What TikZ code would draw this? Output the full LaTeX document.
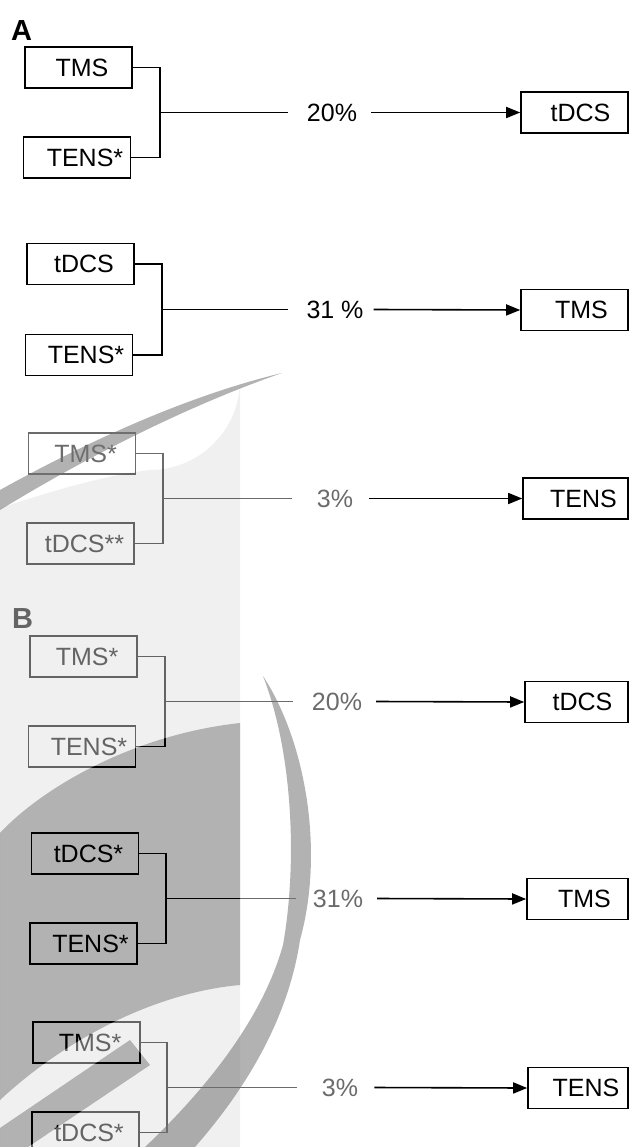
\documentclass[tikz,border=0pt]{standalone}
\usepackage{fontspec}
\setmainfont{Liberation Sans}
\usetikzlibrary{arrows.meta}
\definecolor{wmmid}{gray}{0.45}
\begin{document}
\begin{tikzpicture}[x=1pt,y=-1pt,
  box/.style={draw=black, line width=1.6pt, minimum width=107pt, minimum height=41pt,
              inner sep=0pt, font=\fontsize{25}{27}\selectfont},
  wire/.style={line width=1.6pt},
  arr/.style={line width=1.6pt, -{Triangle[length=14pt,width=11pt]}},
  pct/.style={inner sep=0pt, font=\fontsize{25}{27}\selectfont},
  panel/.style={inner sep=0pt, anchor=base west, font=\bfseries\fontsize{29}{31}\selectfont},
  wmwhite/.style={fill=white, fill opacity=0.42},
  wmpale/.style={fill=black, fill opacity=0.06},
  wmdark/.style={fill=black, fill opacity=0.30},
  wmswoosh/.style={fill=wmmid, fill opacity=0.55}]

\useasboundingbox (0,0) rectangle (630,1147);
\clip (0,0) rectangle (630,1147);

% ---------- panel A ----------
\node[panel] (labA) at (11,41) {A};

% TMS + TENS* -> tDCS
\node[box] (a1top) at (78.5,67.5) {\hspace*{7pt}TMS};
\node[box] (a1bot) at (77,157.5) {\hspace*{16pt}TENS*};
\coordinate (a1j) at (160,112.5);
\coordinate (a1e) at (288,112.5);
\node[pct] (a1p) at (332,112.5) {20\%};
\node[box] (a1t) at (574.5,112.5) {\hspace*{12pt}tDCS};
\draw[wire] (a1top.east) -| (a1j) |- (a1bot.east);
\draw[wire] (a1j) -- (a1e);
\draw[arr] ([xshift=14pt]a1p.east) -- (a1t.west);

% tDCS + TENS* -> TMS
\node[box] (a2top) at (80.5,264) {\hspace*{7pt}tDCS};
\node[box] (a2bot) at (79,355) {\hspace*{14pt}TENS*};
\coordinate (a2j) at (162,309.5);
\coordinate (a2e) at (288,309.5);
\node[pct] (a2p) at (335,309.5) {31 \%};
\node[box] (a2t) at (574.5,310) {\hspace*{14pt}TMS};
\draw[wire] (a2top.east) -| (a2j) |- (a2bot.east);
\draw[wire] (a2j) -- (a2e);
\draw[arr] ([xshift=10pt]a2p.east) -- (a2t.west);

% TMS* + tDCS** -> TENS
\node[box] (a3top) at (82,453.5) {\hspace*{7pt}TMS*};
\node[box] (a3bot) at (80.5,543.5) {\hspace*{8pt}tDCS**};
\coordinate (a3j) at (163,498.5);
\coordinate (a3e) at (292,498.5);
\node[pct] (a3p) at (335,498.5) {3\%};
\node[box, minimum width=105pt] (a3t) at (575.5,498.5) {\hspace*{16pt}TENS};
\draw[wire] (a3top.east) -| (a3j) |- (a3bot.east);
\draw[wire] (a3j) -- (a3e);
\draw[arr] ([xshift=16pt]a3p.east) -- (a3t.west);

% ---------- panel B ----------
\node[panel] (labB) at (12,628) {B};

% TMS* + TENS* -> tDCS
\node[box] (b1top) at (83.5,656.5) {\hspace*{7pt}TMS*};
\node[box] (b1bot) at (82,746.5) {\hspace*{14pt}TENS*};
\coordinate (b1j) at (165,701.5);
\coordinate (b1e) at (293,701.5);
\node[pct] (b1p) at (337,701.5) {20\%};
\node[box, minimum width=103pt] (b1t) at (576.5,702) {\hspace*{12pt}tDCS};
\draw[wire] (b1top.east) -| (b1j) |- (b1bot.east);
\draw[wire] (b1j) -- (b1e);
\draw[arr] ([xshift=14pt]b1p.east) -- (b1t.west);

% tDCS* + TENS* -> TMS
\node[box] (b2top) at (85,853.5) {\hspace*{7pt}tDCS*};
\node[box] (b2bot) at (83.5,943.5) {\hspace*{14pt}TENS*};
\coordinate (b2j) at (166,898.5);
\coordinate (b2e) at (296,898.5);
\node[pct] (b2p) at (338,898.5) {31\%};
\node[box, minimum width=101pt] (b2t) at (577.5,899) {\hspace*{14pt}TMS};
\draw[wire] (b2top.east) -| (b2j) |- (b2bot.east);
\draw[wire] (b2j) -- (b2e);
\draw[arr] ([xshift=14pt]b2p.east) -- (b2t.west);

% TMS* + tDCS* -> TENS
\node[box] (b3top) at (86.5,1042.5) {\hspace*{7pt}TMS*};
\node[box] (b3bot) at (85.5,1132.5) {\hspace*{7pt}tDCS*};
\coordinate (b3j) at (167,1087.5);
\coordinate (b3e) at (297,1087.5);
\node[pct] (b3p) at (340,1087.5) {3\%};
\node[box, minimum width=100pt] (b3t) at (578,1088) {\hspace*{16pt}TENS};
\draw[wire] (b3top.east) -| (b3j) |- (b3bot.east);
\draw[wire] (b3j) -- (b3e);
\draw[arr] ([xshift=16pt]b3p.east) -- (b3t.west);

% ---------- background logo, laid over the figure ----------
\def\darkblock{%
  (0,833) .. controls (40,790) and (130,735) .. (240,723) -- (240,985)
          .. controls (160,992) and (70,1035) .. (0,1100) -- cycle
  (0,1128) -- (130,1040) -- (150,1065) -- (28,1147) -- (0,1147) -- cycle}
% translucent white field of the logo (lightens the lines beneath it)
\fill[wmwhite, even odd rule]
  (0,405) -- (302,405) arc[start angle=90, end angle=0, radius=60] -- (362,1147) -- (0,1147) -- cycle
  \darkblock;
% pale rounded panel
\fill[wmpale, even odd rule]
  (0,508) .. controls (50,492) and (100,476) .. (150,470)
  arc[start angle=90, end angle=0, radius=90] -- (240,1147) -- (0,1147) -- cycle
  \darkblock;
% dark block
\fill[wmdark] \darkblock;
% upper thin swoosh
\fill[wmswoosh]
  (0,490) .. controls (90,440) and (190,395) .. (282,373)
          .. controls (190,405) and (90,455) .. (0,510) -- cycle;
% large crescent swoosh
\fill[wmswoosh]
  (263,676) .. controls (305,740) and (325,850) .. (300,940)
            .. controls (288,1020) and (245,1090) .. (195,1147)
  -- (145,1147) .. controls (205,1090) and (262,1020) .. (283,945)
            .. controls (298,860) and (292,750) .. (263,676) -- cycle;
\end{tikzpicture}
\end{document}
